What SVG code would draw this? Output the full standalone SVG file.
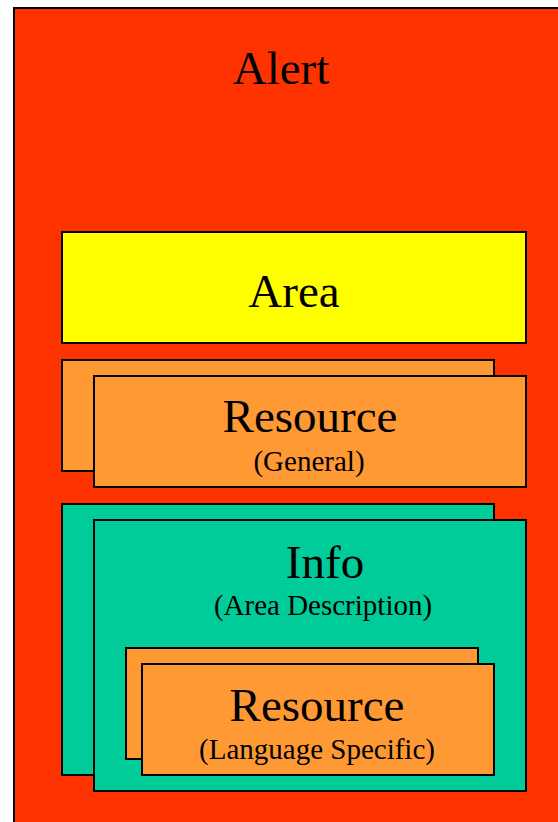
<svg xmlns="http://www.w3.org/2000/svg" width="558" height="822" viewBox="0 0 558 822">
<style>
.b{stroke:#000;stroke-width:2}
.red{fill:#FF3300}
.yel{fill:#FFFF00}
.org{fill:#FF9933}
.tea{fill:#00CC99}
text{font-family:"Liberation Serif","Times New Roman",serif;fill:#000;text-anchor:middle}
.big{font-size:47px}
.sm{font-size:29px}
</style>
<rect width="558" height="822" fill="#fff"/>
<g id="alert">
<rect class="b red" x="14" y="8" width="560" height="830"/>
<text class="big" x="281" y="84">Alert</text>
</g>
<g id="area">
<rect class="b yel" x="62" y="232" width="464" height="111"/>
<text class="big" x="294" y="307">Area</text>
</g>
<g id="resource-general">
<rect class="b org" x="62" y="360" width="432" height="111"/>
<rect class="b org" x="94" y="376" width="432" height="111"/>
<text class="big" x="310" y="432">Resource</text>
<text class="sm" x="309" y="471">(General)</text>
</g>
<g id="info">
<rect class="b tea" x="62" y="504" width="432" height="271"/>
<rect class="b tea" x="94" y="520" width="432" height="271"/>
<text class="big" x="325" y="578">Info</text>
<text class="sm" x="323" y="615">(Area Description)</text>
</g>
<g id="resource-language">
<rect class="b org" x="126" y="648" width="352" height="111"/>
<rect class="b org" x="142" y="664" width="352" height="111"/>
<text class="big" x="317" y="721">Resource</text>
<text class="sm" x="317" y="759">(Language Specific)</text>
</g>
<g id="connectors"/>
</svg>
